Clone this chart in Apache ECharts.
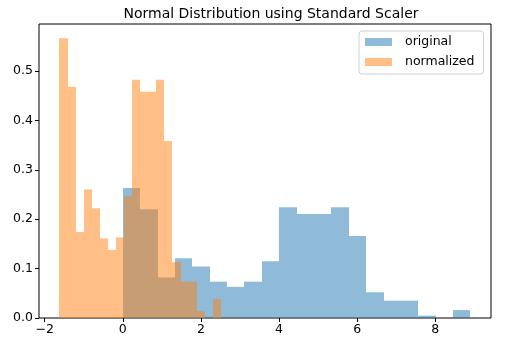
<!DOCTYPE html>
<html>
<head>
<meta charset="utf-8">
<script src="https://cdn.jsdelivr.net/npm/echarts@6/dist/echarts.min.js"></script>
<style>
html,body{margin:0;padding:0;background:#fff;}
#chart{width:508px;height:346px;}
</style>
</head>
<body>
<div id="chart"></div>
<script>
// ---- data ----
const titleText = 'Normal Distribution using Standard Scaler';
const seriesNames = ['original', 'normalized'];
const binCount = 20;
const originalRange = [0, 8.9];
const normalizedRange = [-1.622, 2.51];
const originalDensity = [0.263, 0.220, 0.082, 0.121, 0.104, 0.0735, 0.063, 0.0735, 0.115, 0.224,
                         0.2105, 0.2105, 0.224, 0.166, 0.052, 0.035, 0.035, 0.0047, 0, 0.016];
const normalizedDensity = [0.566, 0.468, 0.174, 0.260, 0.222, 0.161, 0.138, 0.163, 0.247, 0.482,
                           0.458, 0.458, 0.482, 0.358, 0.113, 0.0735, 0.0735, 0.014, 0, 0.038];
const xTicks = [-2, 0, 2, 4, 6, 8];
const yTicks = [0, 0.1, 0.2, 0.3, 0.4, 0.5];
const xLimits = [-2.146, 9.426];
const yLimits = [0, 0.595];

// ---- build histogram bins ----
function bins(range, dens) {
  const w = (range[1] - range[0]) / binCount;
  return dens.map((d, i) => [range[0] + i * w, range[0] + (i + 1) * w, d]);
}
const colors = ['rgba(31,119,180,0.5)', 'rgba(255,127,14,0.5)'];

function renderHist(params, api) {
  const p0 = api.coord([api.value(0), api.value(2)]);
  const p1 = api.coord([api.value(1), 0]);
  const x0 = Math.round(p0[0]), x1 = Math.round(p1[0]);
  const yb = Math.round(p1[1]), yt = p0[1];
  return {
    type: 'rect',
    shape: { x: x0, y: yt, width: x1 - x0, height: yb - yt },
    style: { fill: api.visual('color') }
  };
}

const chart = echarts.init(document.getElementById('chart'), null, { renderer: 'canvas' });
const font = 'DejaVu Sans';
chart.setOption({
  animation: false,
  backgroundColor: '#fff',
  title: {
    text: titleText,
    left: 266, textAlign: 'center', top: 2,
    textStyle: { fontFamily: font, fontSize: 14, fontWeight: 'normal', color: '#000' }
  },
  legend: {
    orient: 'vertical',
    left: 359, top: 31,
    padding: [4, 9, 5, 6],
    itemWidth: 27, itemHeight: 8, itemGap: 6,
    borderColor: '#d0d0d0', borderWidth: 1, borderRadius: 3,
    backgroundColor: '#fff',
    textStyle: { fontFamily: font, fontSize: 12.5, color: '#000', lineHeight: 14, padding: [0, 0, 0, 8] },
    data: seriesNames.map((n, i) => ({ name: n, icon: 'rect', itemStyle: { color: colors[i] } }))
  },
  grid: {
    left: 39, top: 24, width: 452, height: 294,
    show: true, borderColor: '#000', borderWidth: 1
  },
  xAxis: {
    type: 'value', min: xLimits[0], max: xLimits[1],
    axisLine: { show: false, onZero: false },
    splitLine: { show: false },
    axisTick: { show: true, length: 4, customValues: xTicks, lineStyle: { color: '#000' } },
    axisLabel: {
      customValues: xTicks, margin: 5,
      fontFamily: font, fontSize: 12.5, color: '#000',
      formatter: v => String(v).replace('-', '\u2212')
    }
  },
  yAxis: {
    type: 'value', min: yLimits[0], max: yLimits[1],
    axisLine: { show: false, onZero: false },
    splitLine: { show: false },
    axisTick: { show: true, length: 4, customValues: yTicks, lineStyle: { color: '#000' } },
    axisLabel: {
      customValues: yTicks, margin: 6,
      fontFamily: font, fontSize: 12.5, color: '#000',
      formatter: v => v.toFixed(1)
    }
  },
  series: [
    {
      name: seriesNames[0], type: 'custom', renderItem: renderHist,
      itemStyle: { color: colors[0] },
      encode: { x: [0, 1], y: 2 },
      data: bins(originalRange, originalDensity)
    },
    {
      name: seriesNames[1], type: 'custom', renderItem: renderHist,
      itemStyle: { color: colors[1] },
      encode: { x: [0, 1], y: 2 },
      data: bins(normalizedRange, normalizedDensity)
    }
  ]
});
</script>
</body>
</html>
